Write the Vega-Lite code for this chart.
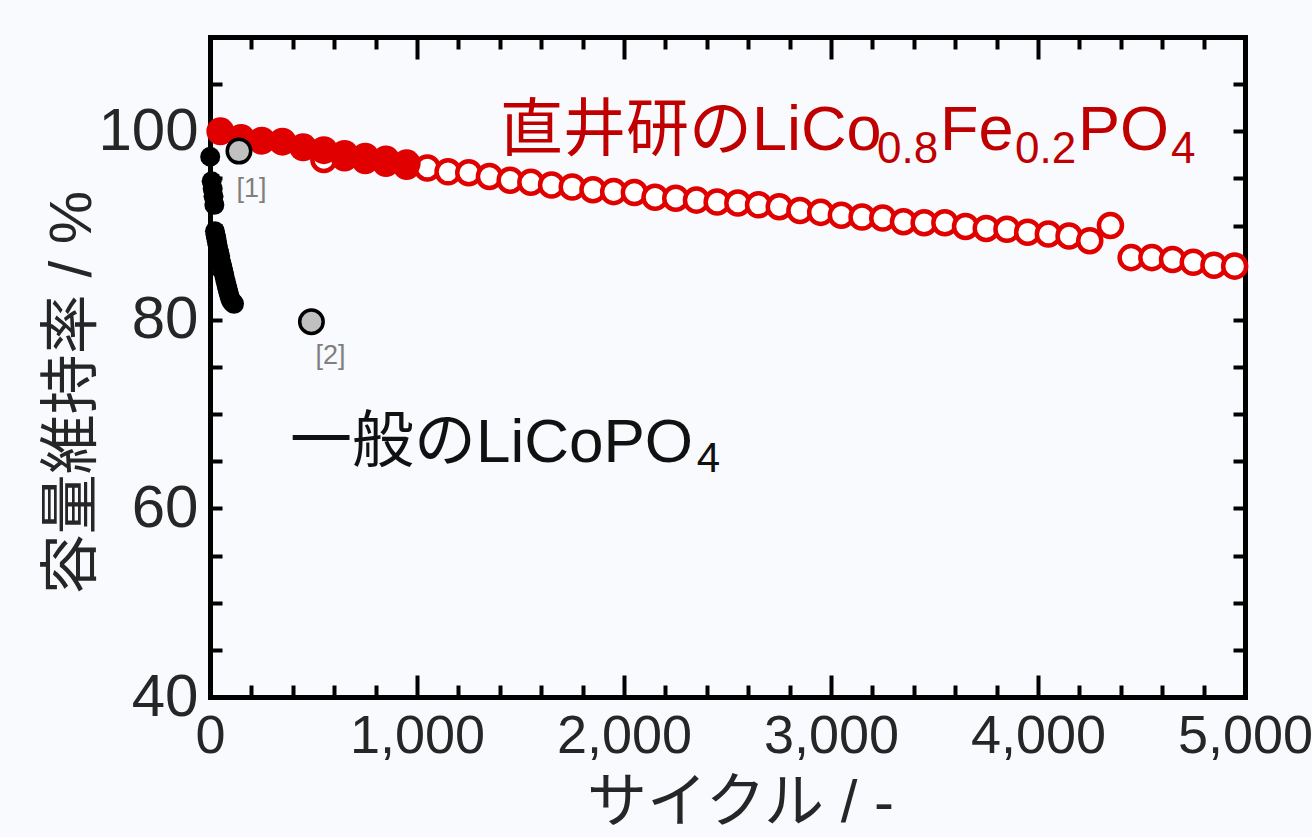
{
  "$schema": "https://vega.github.io/schema/vega-lite/v6.json",
  "width": 1035,
  "height": 660,
  "autosize": {"type": "none"},
  "padding": {"left": 210, "top": 37, "right": 67, "bottom": 140},
  "background": "#f8fafd",
  "config": {
    "view": {"stroke": null},
    "axis": {
      "grid": false,
      "labelFont": "Liberation Sans",
      "labelFontSize": 56,
      "labelColor": "#262626",
      "titleFont": "Liberation Sans, Noto Sans CJK JP",
      "titleFontSize": 60,
      "titleFontWeight": "normal",
      "titleColor": "#262626",
      "domainColor": "black",
      "domainWidth": 5,
      "domainCap": "square",
      "tickColor": "black",
      "tickWidth": 4
    }
  },
  "datasets": {
    "open": [
      {"cycle": 550, "value": 97.0}, {"cycle": 650, "value": 97.2}, {"cycle": 750, "value": 96.9},
      {"cycle": 850, "value": 96.6}, {"cycle": 950, "value": 96.3},
      {"cycle": 1050, "value": 96.1}, {"cycle": 1150, "value": 95.7}, {"cycle": 1250, "value": 95.6},
      {"cycle": 1350, "value": 95.2}, {"cycle": 1450, "value": 94.8}, {"cycle": 1550, "value": 94.6},
      {"cycle": 1650, "value": 94.3}, {"cycle": 1750, "value": 94.1}, {"cycle": 1850, "value": 93.8},
      {"cycle": 1950, "value": 93.6}, {"cycle": 2050, "value": 93.5}, {"cycle": 2150, "value": 93.0},
      {"cycle": 2250, "value": 92.9}, {"cycle": 2350, "value": 92.7}, {"cycle": 2450, "value": 92.5},
      {"cycle": 2550, "value": 92.4}, {"cycle": 2650, "value": 92.2}, {"cycle": 2750, "value": 92.0},
      {"cycle": 2850, "value": 91.6}, {"cycle": 2950, "value": 91.4}, {"cycle": 3050, "value": 91.1},
      {"cycle": 3150, "value": 90.9}, {"cycle": 3250, "value": 90.8}, {"cycle": 3350, "value": 90.4},
      {"cycle": 3450, "value": 90.3}, {"cycle": 3550, "value": 90.3}, {"cycle": 3650, "value": 89.9},
      {"cycle": 3750, "value": 89.7}, {"cycle": 3850, "value": 89.6}, {"cycle": 3950, "value": 89.3},
      {"cycle": 4050, "value": 89.1}, {"cycle": 4150, "value": 88.9}, {"cycle": 4250, "value": 88.4},
      {"cycle": 4350, "value": 90.0}, {"cycle": 4450, "value": 86.6}, {"cycle": 4550, "value": 86.6},
      {"cycle": 4650, "value": 86.4}, {"cycle": 4750, "value": 86.1}, {"cycle": 4850, "value": 85.8},
      {"cycle": 4950, "value": 85.7}
    ],
    "filled": [
      {"cycle": 50, "value": 100.0}, {"cycle": 150, "value": 99.3}, {"cycle": 250, "value": 99.0},
      {"cycle": 350, "value": 98.9}, {"cycle": 450, "value": 98.3}, {"cycle": 550, "value": 98.0},
      {"cycle": 650, "value": 97.6}, {"cycle": 750, "value": 97.3}, {"cycle": 850, "value": 97.0},
      {"cycle": 950, "value": 96.6}
    ],
    "black": [
      {"cycle": 1, "value": 97.3}, {"cycle": 8, "value": 94.7}, {"cycle": 13, "value": 93.9},
      {"cycle": 17, "value": 93.1}, {"cycle": 21, "value": 92.2}, {"cycle": 24, "value": 89.4},
      {"cycle": 27, "value": 89.0}, {"cycle": 30, "value": 88.7}, {"cycle": 33, "value": 88.3},
      {"cycle": 37, "value": 87.9}, {"cycle": 41, "value": 87.4}, {"cycle": 45, "value": 87.1},
      {"cycle": 49, "value": 86.7}, {"cycle": 53, "value": 86.2}, {"cycle": 57, "value": 85.9},
      {"cycle": 61, "value": 85.5}, {"cycle": 65, "value": 85.1}, {"cycle": 69, "value": 84.7},
      {"cycle": 73, "value": 84.3}, {"cycle": 77, "value": 84.0}, {"cycle": 81, "value": 83.6},
      {"cycle": 85, "value": 83.3}, {"cycle": 89, "value": 82.9}, {"cycle": 93, "value": 82.6},
      {"cycle": 97, "value": 82.3}, {"cycle": 101, "value": 82.1}, {"cycle": 106, "value": 81.9},
      {"cycle": 112, "value": 81.8}, {"cycle": 116, "value": 81.7}
    ],
    "gray": [
      {"cycle": 140, "value": 97.9}, {"cycle": 490, "value": 79.8}
    ],
    "grayLabels": [
      {"cycle": 128, "value": 93.0, "text": "[1]"}, {"cycle": 510, "value": 75.3, "text": "[2]"}
    ],
    "redMain": [
      {"cycle": 1401, "value": 98.0, "text": "直井研のLiCo"},
      {"cycle": 3527, "value": 98.0, "text": "Fe"},
      {"cycle": 4193, "value": 98.0, "text": "PO"}
    ],
    "redSub": [
      {"cycle": 3222, "value": 96.6, "text": "0.8"},
      {"cycle": 3889, "value": 96.6, "text": "0.2"},
      {"cycle": 4643, "value": 96.6, "text": "4"}
    ],
    "blackMain": [
      {"cycle": 386, "value": 64.9, "text": "一般のLiCoPO"}
    ],
    "blackSub": [
      {"cycle": 2352, "value": 63.9, "text": "4"}
    ]
  },
  "layer": [
    {
      "data": {"name": "open"},
      "mark": {"type": "point", "shape": "circle", "filled": true, "fill": "white", "stroke": "#e00000", "strokeWidth": 4.5, "size": 530, "opacity": 1},
      "encoding": {
        "x": {"field": "cycle", "type": "quantitative",
          "scale": {"domain": [0, 5000], "nice": false, "zero": false},
          "axis": {"orient": "bottom", "values": [0, 1000, 2000, 3000, 4000, 5000], "format": ",.0f", "ticks": false,
            "labelFontSize": 54, "labelPadding": 12, "labelFlush": false, "labelOverlap": false, "domain": true,
            "title": "サイクル / -", "titleX": 530, "titleY": 106, "titleBaseline": "middle", "titleAlign": "center"}},
        "y": {"field": "value", "type": "quantitative",
          "scale": {"domain": [40, 110], "nice": false, "zero": false},
          "axis": {"orient": "left", "values": [40, 60, 80, 100], "ticks": false, "labelFontSize": 60, "labelPadding": 12,
            "labelFlush": false, "labelOverlap": false, "domain": true,
            "title": "容量維持率 / %", "titleX": -138, "titleY": 355, "titleBaseline": "middle", "titleAlign": "center", "titleAngle": 270}}
      }
    },
    {
      "data": {"name": "filled"},
      "mark": {"type": "point", "shape": "circle", "filled": true, "fill": "#e00000", "strokeWidth": 0, "size": 784, "opacity": 1},
      "encoding": {
        "x": {"field": "cycle", "type": "quantitative", "scale": {"domain": [0, 5000], "nice": false, "zero": false},
          "axis": {"orient": "bottom", "values": [0, 1000, 2000, 3000, 4000, 5000], "labels": false, "domain": false, "tickSize": -22, "title": null}},
        "y": {"field": "value", "type": "quantitative", "scale": {"domain": [40, 110], "nice": false, "zero": false},
          "axis": {"orient": "left", "values": [45, 50, 55, 60, 65, 70, 75, 80, 85, 90, 95, 100, 105], "labels": false, "domain": false, "tickSize": -12, "title": null}}
      }
    },
    {
      "data": {"name": "black"},
      "mark": {"type": "point", "shape": "circle", "filled": true, "fill": "black", "strokeWidth": 0, "size": 400, "opacity": 1},
      "encoding": {
        "x": {"field": "cycle", "type": "quantitative", "scale": {"domain": [0, 5000], "nice": false, "zero": false},
          "axis": {"orient": "bottom", "values": [200, 400, 600, 800, 1200, 1400, 1600, 1800, 2200, 2400, 2600, 2800, 3200, 3400, 3600, 3800, 4200, 4400, 4600, 4800], "labels": false, "domain": false, "tickSize": -12, "title": null}},
        "y": {"field": "value", "type": "quantitative", "scale": {"domain": [40, 110], "nice": false, "zero": false},
          "axis": {"orient": "right", "values": [45, 50, 55, 60, 65, 70, 75, 80, 85, 90, 95, 100, 105], "labels": false, "domain": true, "tickSize": -12, "title": null}}
      }
    },
    {
      "data": {"name": "gray"},
      "mark": {"type": "point", "shape": "circle", "filled": true, "fill": "#c0c0c0", "stroke": "black", "strokeWidth": 3.5, "size": 552, "opacity": 1},
      "encoding": {
        "x": {"field": "cycle", "type": "quantitative", "scale": {"domain": [0, 5000], "nice": false, "zero": false},
          "axis": {"orient": "top", "values": [0, 1000, 2000, 3000, 4000, 5000], "labels": false, "domain": true, "tickSize": -22, "title": null}},
        "y": {"field": "value", "type": "quantitative", "scale": {"domain": [40, 110], "nice": false, "zero": false}, "axis": null}
      }
    },
    {
      "data": {"name": "grayLabels"},
      "mark": {"type": "text", "align": "left", "baseline": "alphabetic", "font": "Liberation Sans", "fontSize": 27, "color": "#7f7f7f"},
      "encoding": {
        "x": {"field": "cycle", "type": "quantitative", "scale": {"domain": [0, 5000], "nice": false, "zero": false},
          "axis": {"orient": "top", "values": [200, 400, 600, 800, 1200, 1400, 1600, 1800, 2200, 2400, 2600, 2800, 3200, 3400, 3600, 3800, 4200, 4400, 4600, 4800], "labels": false, "domain": false, "tickSize": -12, "title": null}},
        "y": {"field": "value", "type": "quantitative", "scale": {"domain": [40, 110], "nice": false, "zero": false}, "axis": null},
        "text": {"field": "text"}
      }
    },
    {
      "data": {"name": "redMain"},
      "mark": {"type": "text", "align": "left", "baseline": "alphabetic", "font": "Liberation Sans, Noto Sans CJK JP", "fontSize": 63, "color": "#c00000"},
      "encoding": {
        "x": {"field": "cycle", "type": "quantitative", "scale": {"domain": [0, 5000], "nice": false, "zero": false}, "axis": null},
        "y": {"field": "value", "type": "quantitative", "scale": {"domain": [40, 110], "nice": false, "zero": false}, "axis": null},
        "text": {"field": "text"}
      }
    },
    {
      "data": {"name": "redSub"},
      "mark": {"type": "text", "align": "left", "baseline": "alphabetic", "font": "Liberation Sans", "fontSize": 44, "color": "#c00000"},
      "encoding": {
        "x": {"field": "cycle", "type": "quantitative", "scale": {"domain": [0, 5000], "nice": false, "zero": false}, "axis": null},
        "y": {"field": "value", "type": "quantitative", "scale": {"domain": [40, 110], "nice": false, "zero": false}, "axis": null},
        "text": {"field": "text"}
      }
    },
    {
      "data": {"name": "blackMain"},
      "mark": {"type": "text", "align": "left", "baseline": "alphabetic", "font": "Liberation Sans, Noto Sans CJK JP", "fontSize": 62, "color": "#111111"},
      "encoding": {
        "x": {"field": "cycle", "type": "quantitative", "scale": {"domain": [0, 5000], "nice": false, "zero": false}, "axis": null},
        "y": {"field": "value", "type": "quantitative", "scale": {"domain": [40, 110], "nice": false, "zero": false}, "axis": null},
        "text": {"field": "text"}
      }
    },
    {
      "data": {"name": "blackSub"},
      "mark": {"type": "text", "align": "left", "baseline": "alphabetic", "font": "Liberation Sans", "fontSize": 42, "color": "#111111"},
      "encoding": {
        "x": {"field": "cycle", "type": "quantitative", "scale": {"domain": [0, 5000], "nice": false, "zero": false}, "axis": null},
        "y": {"field": "value", "type": "quantitative", "scale": {"domain": [40, 110], "nice": false, "zero": false}, "axis": null},
        "text": {"field": "text"}
      }
    }
  ],
  "resolve": {"axis": {"x": "independent", "y": "independent"}}
}
